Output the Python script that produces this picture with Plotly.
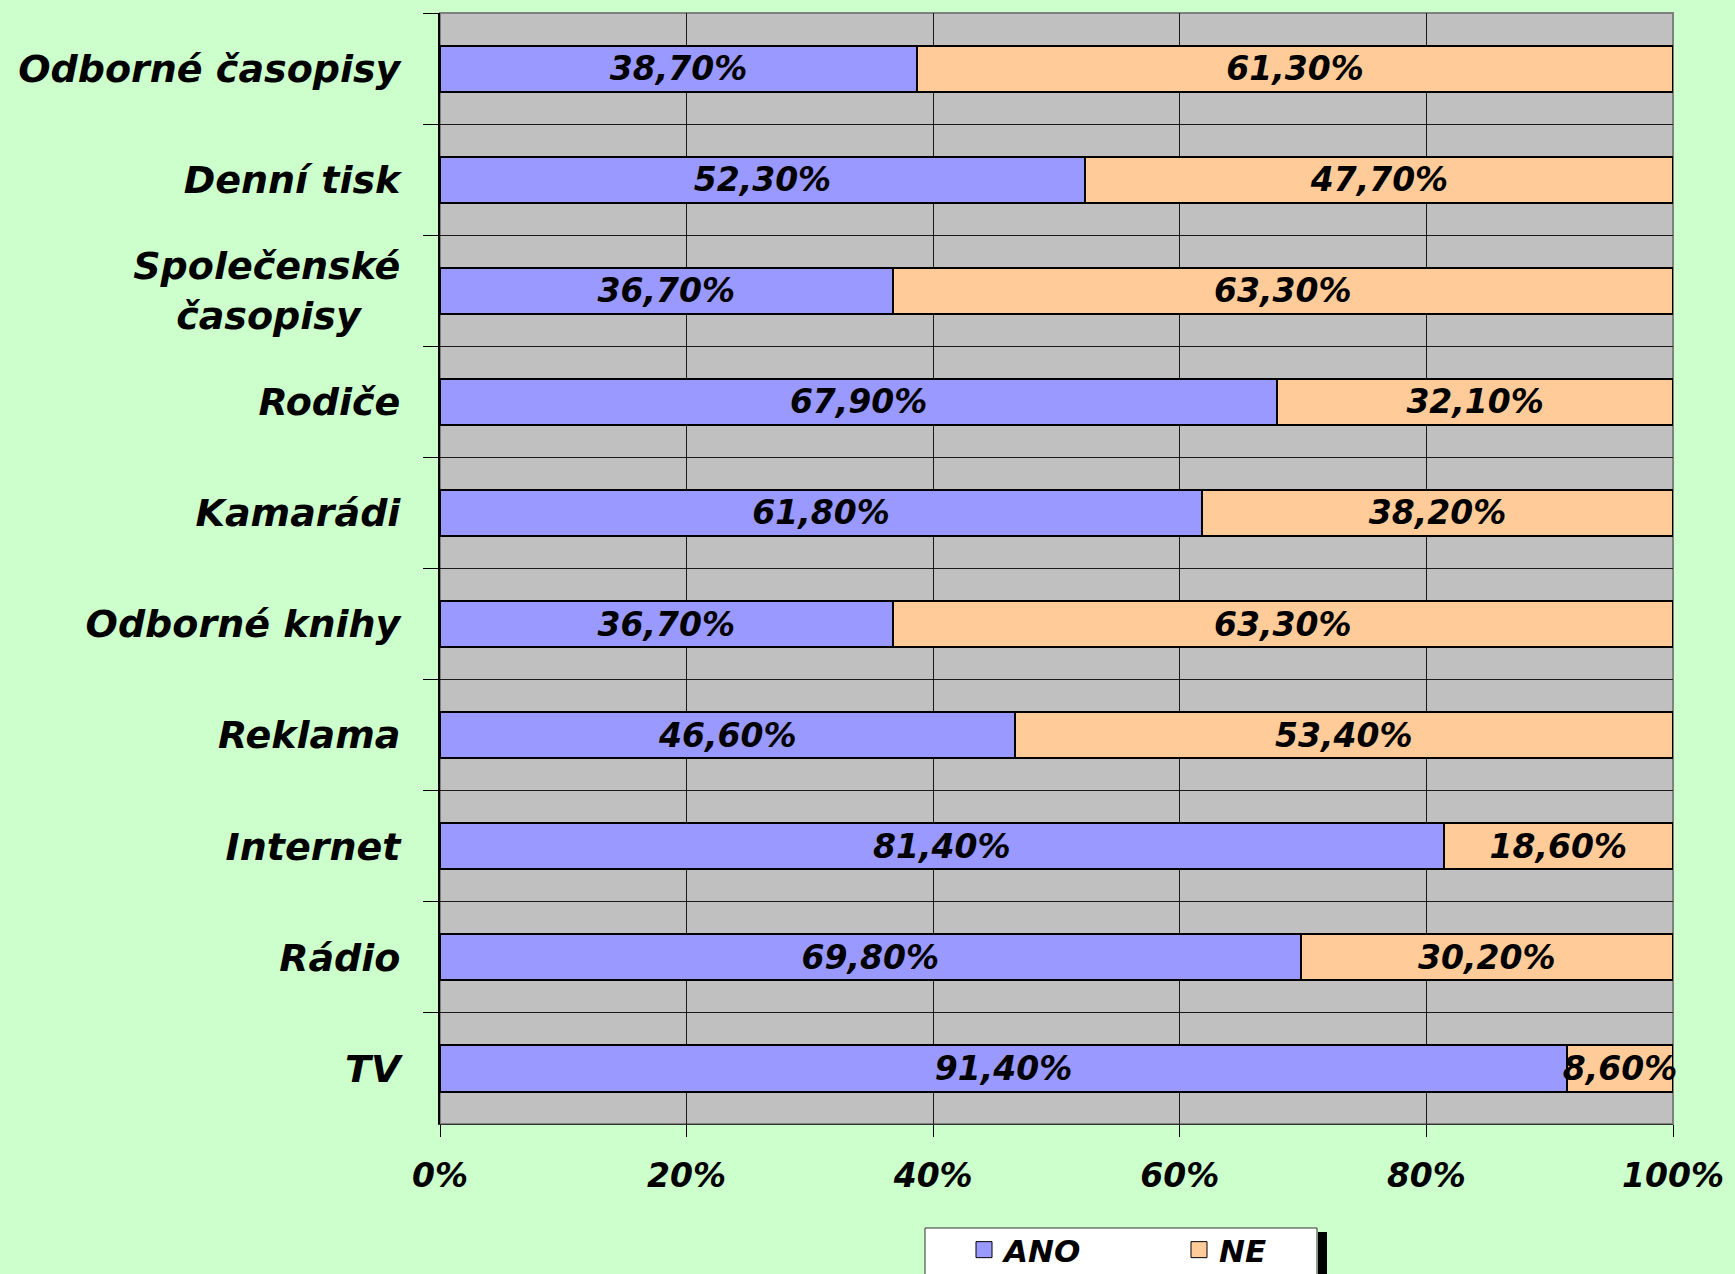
import plotly.graph_objects as go

categories = ["Odborné časopisy", "Denní tisk", "Společenské<br>časopisy\u00a0\u00a0\u00a0", "Rodiče",
              "Kamarádi", "Odborné knihy", "Reklama", "Internet", "Rádio", "TV"]
ano = [38.7, 52.3, 36.7, 67.9, 61.8, 36.7, 46.6, 81.4, 69.8, 91.4]
ne = [61.3, 47.7, 63.3, 32.1, 38.2, 63.3, 53.4, 18.6, 30.2, 8.6]
x_ticks = [0, 20, 40, 60, 80, 100]
x_tick_labels = ["0%", "20%", "40%", "60%", "80%", "100%"]
series_names = ["ANO", "NE"]
colors = ["#9999FF", "#FFCC99"]

W, H = 1735, 1274
L, R, T, B = 440, 62, 13, 150
PW, PH = W - L - R, H - T - B


def px_x(x):
    return (x - L) / PW


def px_y(y):
    return (H - B - y) / PH


def fmt(v):
    return f"{v:.2f}".replace(".", ",") + "%"


FONT = "DejaVu Sans"
fig = go.Figure()
for name, vals, col in zip(series_names, [ano, ne], colors):
    fig.add_trace(go.Bar(
        y=categories, x=vals, orientation="h", name=name,
        marker=dict(color=col, line=dict(color="black", width=2)),
        text=[fmt(v) for v in vals], textposition="inside",
        insidetextanchor="middle", textangle=0, constraintext="none",
        cliponaxis=False,
        textfont=dict(family=FONT, size=33, color="black", weight="bold", style="italic"),
        showlegend=False, hoverinfo="skip",
    ))
    fig.add_trace(go.Scatter(
        x=[None], y=[None], mode="markers", name=name,
        marker=dict(symbol="square", size=20, color=col, line=dict(color="black", width=1)),
    ))

fig.update_layout(
    width=W, height=H,
    margin=dict(l=L, r=R, t=T, b=B, autoexpand=False),
    paper_bgcolor="#CCFFCC", plot_bgcolor="#C0C0C0",
    barmode="stack", bargap=0.585,
    showlegend=True,
    legend=dict(orientation="h", traceorder="normal", x=px_x(964), xanchor="left",
                y=px_y(1223), yanchor="top",
                bgcolor="rgba(0,0,0,0)", borderwidth=0, entrywidth=170,
                font=dict(family=FONT, size=31, color="black", weight="bold", style="italic")),
    shapes=[
        dict(type="rect", xref="paper", yref="paper", x0=0, x1=1, y0=0, y1=1,
             line=dict(color="#808080", width=2), layer="below"),
        dict(type="rect", xref="paper", yref="paper", x0=px_x(1318), x1=px_x(1327),
             y0=px_y(1232), y1=px_y(1290), fillcolor="black", line=dict(width=0)),
        dict(type="rect", xref="paper", yref="paper", x0=px_x(925), x1=px_x(1317),
             y0=px_y(1228), y1=px_y(1290), fillcolor="white",
             line=dict(color="#333333", width=1)),
    ],
)
fig.update_xaxes(
    range=[0, 100], tickmode="array", tickvals=x_ticks, ticktext=x_tick_labels,
    showgrid=True, gridcolor="#1a1a1a", gridwidth=1, zeroline=False,
    showline=True, linecolor="#333333", linewidth=1,
    ticks="outside", ticklen=12, tickcolor="black", ticklabelstandoff=10,
    tickfont=dict(family=FONT, size=33, color="black", weight="bold", style="italic"),
)
fig.update_yaxes(
    type="category", autorange="reversed", tickson="boundaries",
    showgrid=True, gridcolor="#1a1a1a", gridwidth=1,
    showline=True, linecolor="black", linewidth=2,
    ticks="outside", ticklen=15, tickcolor="black", ticklabelstandoff=30,
    tickfont=dict(family=FONT, size=38, color="black", weight="bold", style="italic"),
)
fig.write_html("out.html", config={"displayModeBar": False},
               post_script="document.body.style.margin='0';document.body.style.background='#CCFFCC';")
